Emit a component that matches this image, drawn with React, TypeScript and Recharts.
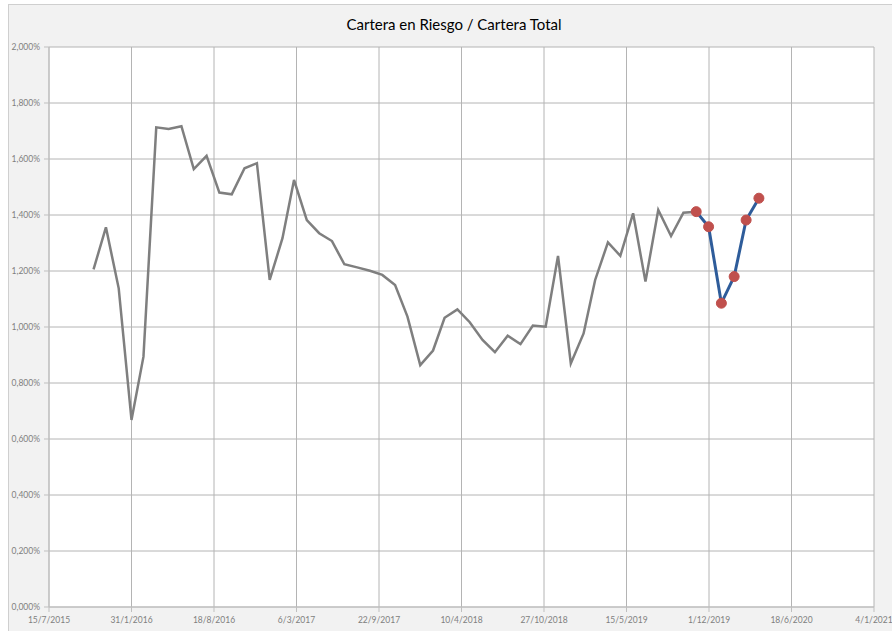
import React from "react";
import { LineChart, Line, XAxis, YAxis, CartesianGrid } from "recharts";

const title = "Cartera en Riesgo / Cartera Total";

// x-axis tick labels (d/m/yyyy), every 200 days
const xTickLabels = [
  "15/7/2015", "31/1/2016", "18/8/2016", "6/3/2017", "22/9/2017", "10/4/2018",
  "27/10/2018", "15/5/2019", "1/12/2019", "18/6/2020", "4/1/2021",
];
const yTicks = [0, 0.2, 0.4, 0.6, 0.8, 1.0, 1.2, 1.4, 1.6, 1.8, 2.0];

// monthly (month-end) observations, gray series: Oct 2015 .. Oct 2019
const grayMonths = [
  "2015-10", "2015-11", "2015-12",
  "2016-01", "2016-02", "2016-03", "2016-04", "2016-05", "2016-06", "2016-07", "2016-08", "2016-09", "2016-10", "2016-11", "2016-12",
  "2017-01", "2017-02", "2017-03", "2017-04", "2017-05", "2017-06", "2017-07", "2017-08", "2017-09", "2017-10", "2017-11", "2017-12",
  "2018-01", "2018-02", "2018-03", "2018-04", "2018-05", "2018-06", "2018-07", "2018-08", "2018-09", "2018-10", "2018-11", "2018-12",
  "2019-01", "2019-02", "2019-03", "2019-04", "2019-05", "2019-06", "2019-07", "2019-08", "2019-09", "2019-10",
];
const grayValues = [
  1.206, 1.356, 1.138,
  0.668, 0.894, 1.713, 1.707, 1.717, 1.564, 1.611, 1.480, 1.474, 1.567, 1.585, 1.168,
  1.317, 1.525, 1.382, 1.335, 1.307, 1.224, 1.213, 1.201, 1.186, 1.150, 1.037, 0.864,
  0.916, 1.033, 1.063, 1.017, 0.954, 0.910, 0.969, 0.939, 1.005, 1.001, 1.254, 0.870,
  0.977, 1.168, 1.302, 1.254, 1.406, 1.162, 1.418, 1.325, 1.408, 1.412,
];

// blue series with markers: Oct 2019 .. Mar 2020
const blueMonths = ["2019-10", "2019-11", "2019-12", "2020-01", "2020-02", "2020-03"];
const blueValues = [1.412, 1.358, 1.085, 1.180, 1.382, 1.460];

const DAY = 86400000;
const parseDmy = (s: string) => {
  const [d, m, y] = s.split("/").map(Number);
  return Date.UTC(y, m - 1, d) / DAY;
};
const monthEnd = (s: string) => {
  const [y, m] = s.split("-").map(Number);
  return Date.UTC(y, m, 0) / DAY;
};
const fmtDay = (t: number) => {
  const d = new Date(t * DAY);
  return `${d.getUTCDate()}/${d.getUTCMonth() + 1}/${d.getUTCFullYear()}`;
};
const fmtPct = (v: number) => v.toFixed(3).replace(".", ",") + "%";

const xTicks = xTickLabels.map(parseDmy);
const grayData = grayMonths.map((m, i) => ({ t: monthEnd(m), v: grayValues[i] }));
const blueData = blueMonths.map((m, i) => ({ t: monthEnd(m), v: blueValues[i] }));

const FONT = "Lato, 'DejaVu Sans Condensed', sans-serif";
const tickStyle = { fontSize: 8.5, fill: "#7f7f7f", fontFamily: FONT };

export default function App() {
  return (
    <div
      style={{
        position: "fixed",
        top: 4,
        left: 8,
        width: 884,
        height: 627,
        overflow: "hidden",
        boxSizing: "border-box",
        background: "#f2f2f2",
        borderTop: "1px solid #cfcfcf",
        borderLeft: "1px solid #cfcfcf",
      }}
    >
      <div
        style={{
          position: "absolute",
          left: 0,
          width: 890,
          top: 10,
          textAlign: "center",
          fontFamily: FONT,
          fontSize: 15,
          lineHeight: "18px",
          color: "#000",
        }}
      >
        {title}
      </div>
      <LineChart
        width={883}
        height={626}
        margin={{ top: 42, right: 18, bottom: 0, left: 0 }}
        style={{ overflow: "visible" }}
      >
        <CartesianGrid stroke="#b4b4b4" fill="#ffffff" strokeWidth={1} />
        <XAxis
          type="number"
          dataKey="t"
          domain={[xTicks[0], xTicks[xTicks.length - 1]]}
          ticks={xTicks}
          tickFormatter={fmtDay}
          allowDataOverflow
          interval={0}
          height={24}
          tick={tickStyle}
          tickSize={5}
          tickMargin={5}
          stroke="#bfbfbf"
          tickLine={{ stroke: "#bfbfbf" }}
        />
        <YAxis
          type="number"
          domain={[0, 2]}
          ticks={yTicks}
          tickFormatter={fmtPct}
          interval={0}
          width={40}
          tick={tickStyle}
          tickSize={5}
          tickMargin={4}
          stroke="#bfbfbf"
          tickLine={{ stroke: "#bfbfbf" }}
        />
        <Line
          data={grayData}
          dataKey="v"
          type="linear"
          stroke="#7f7f7f"
          strokeWidth={2.5}
          dot={false}
          activeDot={false}
          isAnimationActive={false}
        />
        <Line
          data={blueData}
          dataKey="v"
          type="linear"
          stroke="#2e5c9a"
          strokeWidth={3}
          dot={{ r: 5, fill: "#c0504d", stroke: "#c0504d", strokeWidth: 1 }}
          activeDot={false}
          isAnimationActive={false}
        />
      </LineChart>
    </div>
  );
}
